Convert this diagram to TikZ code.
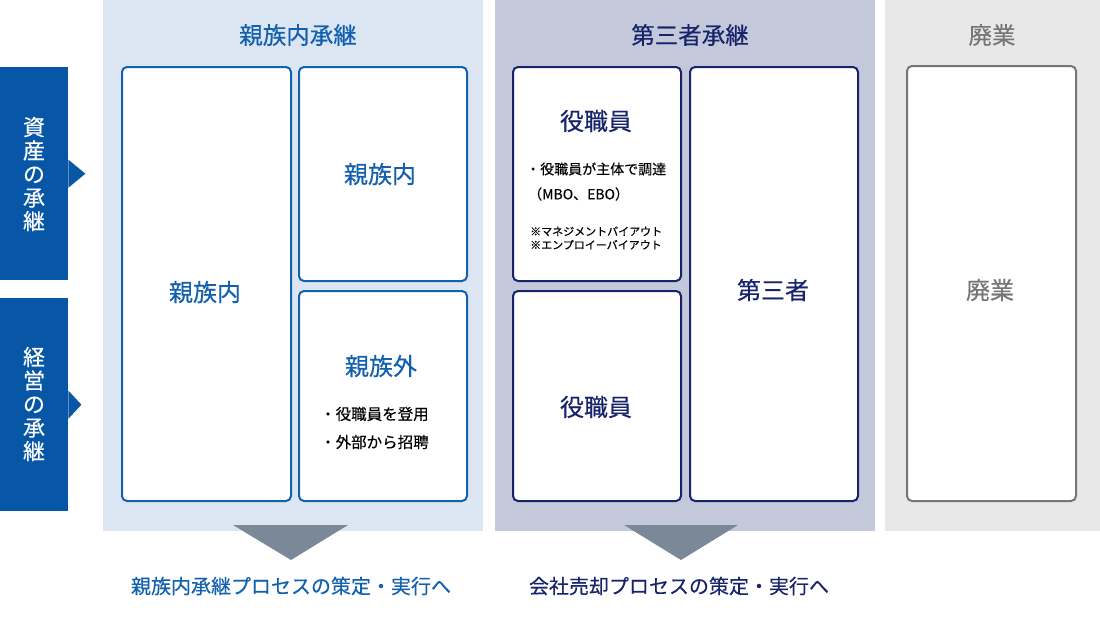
\documentclass[tikz,border=0pt]{standalone}
\usepackage{fontspec}
\setmainfont{Noto Sans CJK JP}[FakeBold=0.35]
\usepackage{tikz}

\definecolor{tabblue}{HTML}{0757A6}
\definecolor{kinblue}{HTML}{1260AE}
\definecolor{kinbg}{HTML}{DCE6F2}
\definecolor{thirdbg}{HTML}{C3C8DA}
\definecolor{navy}{HTML}{17246A}
\definecolor{closebg}{HTML}{E8E8E8}
\definecolor{closegray}{HTML}{767676}
\definecolor{arrowgray}{HTML}{7B8898}

\begin{document}
\begin{tikzpicture}[x=1pt,y=-1pt,
  tab/.style={fill=tabblue,inner sep=0,minimum width=68,minimum height=213,anchor=north west},
  tabtext/.style={text=white,font=\fontsize{22}{23.5}\selectfont,align=center,inner sep=0},
  column/.style={inner sep=0,anchor=north west,minimum height=531},
  coltitle/.style={font=\fontsize{23.5}{26}\selectfont,inner sep=0},
  card/.style={draw,line width=2pt,rounded corners=5pt,fill=white,inner sep=0,anchor=north west},
  cardtitle/.style={font=\fontsize{24}{26}\selectfont,inner sep=0},
  bullet/.style={font=\fontsize{15.5}{28}\selectfont,align=left,inner sep=0,anchor=west},
  result/.style={font=\fontsize{20}{22}\selectfont,inner sep=0}]
\useasboundingbox (0,0) rectangle (1100,619);

% left tabs
\node [tab] (asset) at (0,67) {};
\fill [tabblue] (asset.east) ++(0,-14) -- ++(17,14) -- ++(-17,14) -- cycle;
\node [tabtext] (assettext) at (34,174) {資\\産\\の\\承\\継};
\node [tab] (manage) at (0,298) {};
\fill [tabblue] (manage.east) ++(0,-14) -- ++(13,14) -- ++(-13,14) -- cycle;
\node [tabtext] (managetext) at (34,404) {経\\営\\の\\承\\継};

% columns
\node [column,fill=kinbg,minimum width=380] (kin) at (103,0) {};
\node [column,fill=thirdbg,minimum width=380] (third) at (495,0) {};
\node [column,fill=closebg,minimum width=215] (close) at (885,0) {};
\node [coltitle,text=kinblue] (kintitle) at (298,35) {親族内承継};
\node [coltitle,text=navy] (thirdtitle) at (690,35) {第三者承継};
\node [coltitle,text=closegray] (closetitle) at (992,35) {廃業};

% cards
\node [card,draw=kinblue,minimum width=169,minimum height=434] (kinall) at (121,66) {};
\node [card,draw=kinblue,minimum width=168,minimum height=214] (kinin) at (298,66) {};
\node [card,draw=kinblue,minimum width=168,minimum height=210] (kinout) at (298,290) {};
\node [card,draw=navy,minimum width=168,minimum height=214] (staffup) at (512,66) {};
\node [card,draw=navy,minimum width=168,minimum height=210] (stafflow) at (512,290) {};
\node [card,draw=navy,minimum width=168,minimum height=434] (outsider) at (689,66) {};
\node [card,draw=closegray,minimum width=169,minimum height=435] (closecard) at (906,65) {};

\node [cardtitle,text=kinblue] (kinalltext) at (205,292) {親族内};
\node [cardtitle,text=kinblue] (kinintext) at (380,174) {親族内};
\node [cardtitle,text=kinblue] (kinouttext) at (381,366) {親族外};
\node [bullet] (kinoutb1) at (320,414) {・役職員を登用};
\node [bullet] (kinoutb2) at (320,442) {・外部から招聘};

\node [cardtitle,text=navy] (staffuptext) at (596,121) {役職員};
\node [bullet,font=\fontsize{14}{16}\selectfont] (staffupb1) at (526,169) {・役職員が主体で調達};
\node [bullet,font=\fontsize{14}{16}\selectfont] (staffupb2) at (528,194) {（MBO、EBO）};
\node [bullet,font=\fontsize{11}{13.5}\selectfont] (staffupnote) at (530,238) {※マネジメントバイアウト\\※エンプロイーバイアウト};
\node [cardtitle,text=navy] (stafflowtext) at (596,407) {役職員};
\node [cardtitle,text=navy] (outsidertext) at (773,290) {第三者};
\node [cardtitle,text=closegray] (closecardtext) at (990,290) {廃業};

% arrows down
\fill [arrowgray] (233,525) -- (348,525) -- (291,560) -- cycle;
\fill [arrowgray] (624,525) -- (738,525) -- (681,560) -- cycle;
\node [result,text=kinblue] (kinnext) at (291,586) {親族内承継プロセスの策定・実行へ};
\node [result,text=navy] (thirdnext) at (679,586) {会社売却プロセスの策定・実行へ};
\end{tikzpicture}
\end{document}
